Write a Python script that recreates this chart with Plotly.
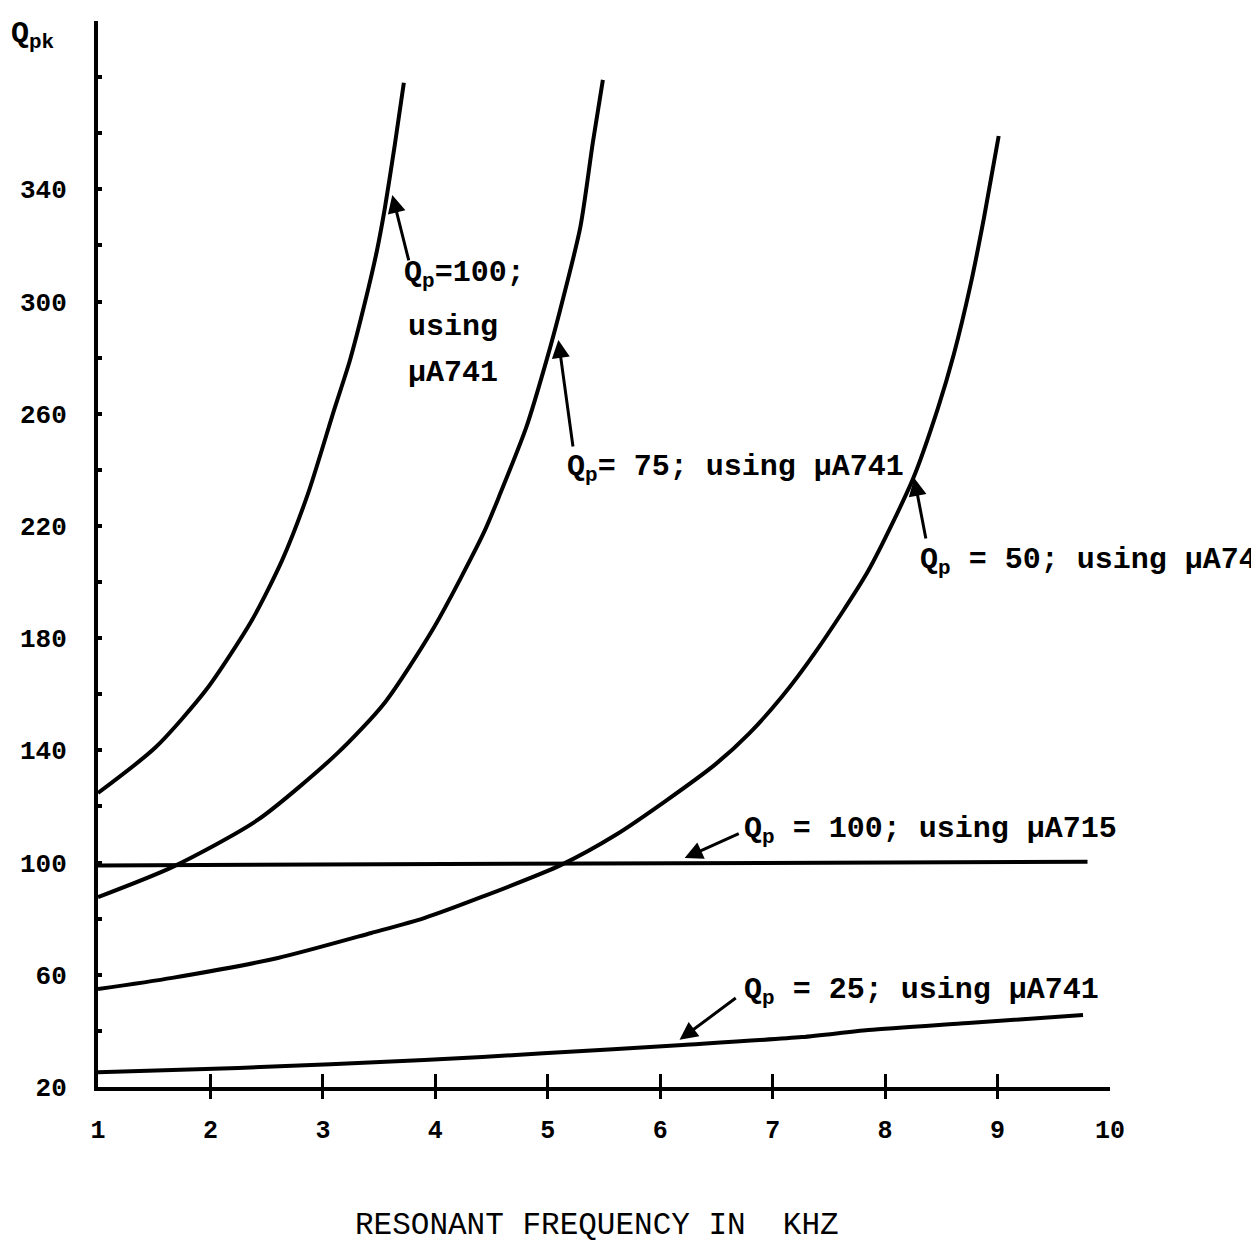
import plotly.graph_objects as go

# ---------------- data ----------------
freq_q100_741 = [1.0, 1.51, 1.96, 2.37, 2.64, 2.87, 3.10, 3.24, 3.37, 3.48, 3.55, 3.64, 3.72]
qpk_q100_741 = [124.8, 141.0, 161.5, 186.5, 208.0, 231.8, 261.4, 279.0, 299.0, 318.0, 333.0, 356.0, 378.0]

freq_q75_741 = [1.0, 1.66, 2.42, 3.13, 3.55, 3.99, 4.43, 4.58, 4.81, 4.99, 5.11, 5.29, 5.40, 5.49]
qpk_q75_741 = [87.7, 98.4, 115.2, 139.0, 157.0, 184.0, 217.5, 231.8, 255.3, 279.2, 297.0, 326.6, 356.5, 379.0]

freq_q50_741 = [1.0, 1.66, 2.6, 3.43, 3.9, 4.43, 5.11, 5.61, 6.05, 6.49, 6.79, 7.08, 7.38,
                7.85, 8.25, 8.47, 8.61, 8.76, 8.88, 9.01]
qpk_q50_741 = [54.9, 58.9, 66.0, 74.9, 80.2, 88.0, 99.0, 110.0, 122.0, 135.0, 146.0, 159.0, 175.0,
               204.0, 237.0, 262.0, 281.0, 306.0, 330.0, 359.0]

freq_q100_715 = [1.0, 9.8]
qpk_q100_715 = [99.0, 100.3]

freq_q25_741 = [1.0, 2.25, 3.9, 4.96, 6.2, 7.26, 7.85, 8.74, 9.76]
qpk_q25_741 = [25.3, 26.8, 29.6, 32.0, 35.0, 37.8, 40.3, 42.8, 45.7]

x_tick_values = [1, 2, 3, 4, 5, 6, 7, 8, 9, 10]
x_tick_labels = ["1", "2", "3", "4", "5", "6", "7", "8", "9", "10"]
x_tick_marks = [2, 3, 4, 5, 6, 7, 8, 9]
y_tick_values = [20, 60, 100, 140, 180, 220, 260, 300, 340]
y_tick_labels = ["20", "60", "100", "140", "180", "220", "260", "300", "340"]

# ---------------- figure ----------------
MONO = "Liberation Mono, Courier New, monospace"
INK = "black"

fig = go.Figure()
series = [
    (freq_q100_741, qpk_q100_741),
    (freq_q75_741, qpk_q75_741),
    (freq_q50_741, qpk_q50_741),
    (freq_q100_715, qpk_q100_715),
    (freq_q25_741, qpk_q25_741),
]
for xs, ys in series:
    fig.add_trace(go.Scatter(x=xs, y=ys, mode="lines",
                             line=dict(color=INK, width=4, shape="spline", smoothing=0.7),
                             hoverinfo="skip", showlegend=False))

# placeholder traces so the tick-only overlay axes are drawn
fig.add_trace(go.Scatter(x=[None], y=[None], xaxis="x2", yaxis="y", showlegend=False, hoverinfo="skip"))
fig.add_trace(go.Scatter(x=[None], y=[None], xaxis="x3", yaxis="y", showlegend=False, hoverinfo="skip"))

axis_common = dict(showgrid=False, zeroline=False)

fig.update_layout(
    width=1251, height=1236,
    margin=dict(l=84, r=149, t=13, b=157, pad=0),
    paper_bgcolor="white", plot_bgcolor="white",
    showlegend=False,
    xaxis=dict(range=[1, 10], showline=True, linewidth=4, linecolor=INK,
               tickmode="array", tickvals=x_tick_values, ticktext=x_tick_labels,
               ticks="", ticklabelstandoff=17,
               tickfont=dict(family=MONO, size=25, color=INK, weight="bold"),
               **axis_common),
    xaxis2=dict(range=[1, 10], overlaying="x", anchor="y", side="bottom",
                tickmode="array", tickvals=x_tick_marks, ticks="outside",
                ticklen=11, tickwidth=3, tickcolor=INK, showticklabels=False,
                showline=False, **axis_common),
    xaxis3=dict(range=[1, 10], overlaying="x", anchor="y", side="bottom",
                tickmode="array", tickvals=x_tick_marks, ticks="inside",
                ticklen=13, tickwidth=3, tickcolor=INK, showticklabels=False,
                showline=False, **axis_common),
    yaxis=dict(range=[20, 400], showline=True, linewidth=4, linecolor=INK,
               tickmode="array", tickvals=y_tick_values, ticktext=y_tick_labels,
               ticks="inside", ticklen=4, tickwidth=4, tickcolor=INK,
               ticklabelstandoff=22,
               minor=dict(tick0=20, dtick=20, ticks="inside", ticklen=4, tickwidth=4, tickcolor=INK),
               tickfont=dict(family=MONO, size=26, color=INK, weight="bold"),
               **axis_common),
)

label_font = dict(family=MONO, size=30, color=INK, weight="bold")

# text labels (data coordinates, left anchored)
labels = [
    ("Q<sub>p</sub>=100;", 3.70, 309.5),
    ("using", 3.74, 291.0),
    ("μA741", 3.74, 274.5),
    ("Q<sub>p</sub>= 75; using μA741", 5.15, 240.5),
    ("Q<sub>p</sub> = 50; using μA741", 8.29, 207.5),
    ("Q<sub>p</sub> = 100; using μA715", 6.73, 111.5),
    ("Q<sub>p</sub> = 25; using μA741", 6.73, 54.0),
]
for txt, x, y in labels:
    fig.add_annotation(x=x, y=y, xref="x", yref="y", text=txt, showarrow=False,
                       xanchor="left", yanchor="middle", font=label_font)

# arrows: (head_x, head_y, tail_x, tail_y)
arrows = [
    (3.617, 338.0, 3.767, 314.1),
    (5.094, 286.3, 5.226, 247.8),
    (8.259, 237.1, 8.365, 215.0),
    (6.217, 101.6, 6.712, 110.6),
    (6.172, 36.8, 6.685, 52.1),
]
for hx, hy, tx, ty in arrows:
    fig.add_annotation(x=hx, y=hy, ax=tx, ay=ty, xref="x", yref="y", axref="x", ayref="y",
                       text="", showarrow=True, arrowhead=2, arrowsize=1.2,
                       arrowwidth=3, arrowcolor=INK)

# axis titles
fig.add_annotation(x=-0.088, y=0.986, xref="paper", yref="paper", text="Q<sub>pk</sub>",
                   showarrow=False, xanchor="left", yanchor="middle",
                   font=dict(family=MONO, size=30, color=INK, weight="bold"))
fig.add_annotation(x=0.493, y=-0.130, xref="paper", yref="paper",
                   text="RESONANT FREQUENCY IN  KHZ", showarrow=False,
                   xanchor="center", yanchor="middle",
                   font=dict(family=MONO, size=31, color=INK))

fig.write_html("out.html")
